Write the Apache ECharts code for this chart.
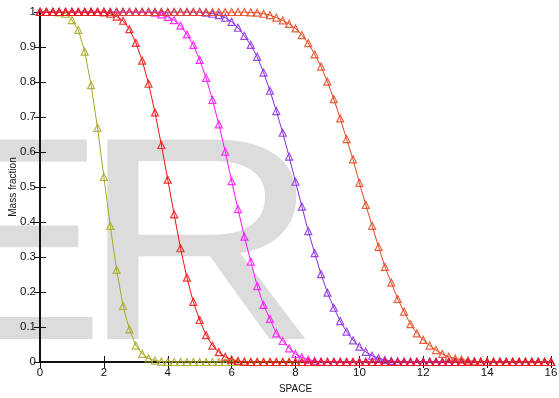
<!DOCTYPE html>
<html>
<head>
<meta charset="utf-8">
<script src="https://cdn.jsdelivr.net/npm/echarts@6/dist/echarts.min.js"></script>
<style>
    html, body { margin: 0; padding: 0; background: #fff; }
    #chart { width: 559px; height: 398px; }
</style>
</head>
<body>
<div id="chart"></div>
<script>
// 横坐标 (SPACE)，步长 0.2
let spaceX = [
    0, 0.2, 0.4, 0.6, 0.8, 1, 1.2, 1.4, 1.6, 1.8,
    2, 2.2, 2.4, 2.6, 2.8, 3, 3.2, 3.4, 3.6, 3.8,
    4, 4.2, 4.4, 4.6, 4.8, 5, 5.2, 5.4, 5.6, 5.8,
    6, 6.2, 6.4, 6.6, 6.8, 7, 7.2, 7.4, 7.6, 7.8,
    8, 8.2, 8.4, 8.6, 8.8, 9, 9.2, 9.4, 9.6, 9.8,
    10, 10.2, 10.4, 10.6, 10.8, 11, 11.2, 11.4, 11.6, 11.8,
    12, 12.2, 12.4, 12.6, 12.8, 13, 13.2, 13.4, 13.6, 13.8,
    14, 14.2, 14.4, 14.6, 14.8, 15, 15.2, 15.4, 15.6, 15.8,
    16
];
let xTicks = [0, 2, 4, 6, 8, 10, 12, 14, 16];
let yTicks = [0, 0.1, 0.2, 0.3, 0.4, 0.5, 0.6, 0.7, 0.8, 0.9, 1];

// 各条曲线的质量分数
let oliveY = [
    1, 1, 1, 0.999, 0.995, 0.977, 0.949, 0.887, 0.791, 0.669,
    0.529, 0.389, 0.263, 0.160, 0.093, 0.047, 0.023, 0.010, 0.004, 0.001,
    0, 0, 0, 0, 0, 0, 0, 0, 0, 0,
    0, 0, 0, 0, 0, 0, 0, 0, 0, 0,
    0, 0, 0, 0, 0, 0, 0, 0, 0, 0,
    0, 0, 0, 0, 0, 0, 0, 0, 0, 0,
    0, 0, 0, 0, 0, 0, 0, 0, 0, 0,
    0, 0, 0, 0, 0, 0, 0, 0, 0, 0,
    0
];
let redY = [
    1, 1, 1, 1, 1, 1, 1, 1, 1, 1,
    0.999, 0.995, 0.987, 0.975, 0.951, 0.912, 0.861, 0.795, 0.713, 0.620,
    0.521, 0.422, 0.325, 0.241, 0.172, 0.120, 0.077, 0.047, 0.028, 0.015,
    0.007, 0.003, 0.001, 0, 0, 0, 0, 0, 0, 0,
    0, 0, 0, 0, 0, 0, 0, 0, 0, 0,
    0, 0, 0, 0, 0, 0, 0, 0, 0, 0,
    0, 0, 0, 0, 0, 0, 0, 0, 0, 0,
    0, 0, 0, 0, 0, 0, 0, 0, 0, 0,
    0
];
let magentaY = [
    1, 1, 1, 1, 1, 1, 1, 1, 1, 1,
    1, 1, 1, 1, 1, 1, 1, 1, 0.998, 0.993,
    0.986, 0.977, 0.961, 0.936, 0.906, 0.863, 0.812, 0.749, 0.679, 0.601,
    0.517, 0.437, 0.358, 0.287, 0.217, 0.163, 0.123, 0.082, 0.060, 0.039,
    0.023, 0.013, 0.007, 0.003, 0.001, 0, 0, 0, 0, 0,
    0, 0, 0, 0, 0, 0, 0, 0, 0, 0,
    0, 0, 0, 0, 0, 0, 0, 0, 0, 0,
    0, 0, 0, 0, 0, 0, 0, 0, 0, 0,
    0
];
let purpleY = [
    1, 1, 1, 1, 1, 1, 1, 1, 1, 1,
    1, 1, 1, 1, 1, 1, 1, 1, 1, 1,
    1, 1, 1, 1, 1, 1, 0.998, 0.995, 0.991, 0.984,
    0.972, 0.955, 0.932, 0.906, 0.872, 0.827, 0.775, 0.717, 0.655, 0.587,
    0.515, 0.444, 0.374, 0.311, 0.251, 0.198, 0.155, 0.117, 0.087, 0.062,
    0.044, 0.029, 0.018, 0.011, 0.006, 0.003, 0.001, 0, 0, 0,
    0, 0, 0, 0, 0, 0, 0, 0, 0, 0,
    0, 0, 0, 0, 0, 0, 0, 0, 0, 0,
    0
];
let orangeY = [
    1, 1, 1, 1, 1, 1, 1, 1, 1, 1,
    1, 1, 1, 1, 1, 1, 1, 1, 1, 1,
    1, 1, 1, 1, 1, 1, 1, 1, 1, 1,
    1, 1, 1, 0.999, 0.998, 0.995, 0.991, 0.984, 0.976, 0.966,
    0.953, 0.934, 0.911, 0.879, 0.844, 0.801, 0.751, 0.696, 0.637, 0.579,
    0.512, 0.449, 0.389, 0.329, 0.272, 0.227, 0.180, 0.144, 0.108, 0.082,
    0.063, 0.047, 0.034, 0.023, 0.015, 0.010, 0.007, 0.004, 0.002, 0.001,
    0, 0, 0, 0, 0, 0, 0, 0, 0, 0,
    0
];

let labelFont = '"Liberation Sans Narrow", "Arial Narrow", "Liberation Sans", Arial, sans-serif';
let markFont = '290px "Liberation Sans", Arial, sans-serif';

function makeSeries(values, color){
    return {
        type: 'line',
        data: spaceX.map(function(x, i){ return [x, values[i]]; }),
        symbol: 'triangle',
        symbolSize: 7,
        showAllSymbol: true,
        lineStyle: { color: color, width: 1 },
        itemStyle: { color: 'rgba(255,255,255,0)', borderColor: color, borderWidth: 1.2, opacity: 0.85 },
        emphasis: { disabled: true },
        z: 3
    };
}

let myChart = echarts.init(document.getElementById('chart'));
let option = {
    animation: false,
    backgroundColor: '#fff',
    // 背景水印 "ER"
    graphic: [{
        type: 'text',
        z: -10,
        silent: true,
        style: { text: 'E', x: 105, y: 259, font: markFont, fill: '#dcdcdc', align: 'right', verticalAlign: 'middle' }
    }, {
        type: 'text',
        z: -10,
        silent: true,
        x: 80,
        scaleX: 1.15,
        style: { text: 'R', x: 0, y: 259, font: markFont, fill: '#dcdcdc', align: 'left', verticalAlign: 'middle' }
    }],
    grid: { left: 40, right: 8, top: 12, bottom: 36, containLabel: false, outerBoundsMode: 'none' },
    xAxis: [{
        type: 'value',
        min: xTicks[0],
        max: xTicks[xTicks.length - 1],
        interval: 2,
        name: 'SPACE',
        nameLocation: 'middle',
        nameGap: 22,
        nameMoveOverlap: false,
        nameTextStyle: { fontFamily: labelFont, fontSize: 10, color: '#111' },
        axisLine: { lineStyle: { color: '#111', width: 2 } },
        axisTick: { inside: true, length: 6, lineStyle: { color: '#111', width: 1 } },
        axisLabel: { fontFamily: labelFont, fontSize: 11.5, color: '#111', margin: 5 },
        splitLine: { show: false }
    }, {
        type: 'value',
        position: 'top',
        min: xTicks[0],
        max: xTicks[xTicks.length - 1],
        interval: 2,
        axisLine: { show: true, lineStyle: { color: '#111', width: 1.5 } },
        axisTick: { inside: true, length: 6, lineStyle: { color: '#111', width: 1 } },
        axisLabel: { show: false },
        splitLine: { show: false }
    }],
    yAxis: [{
        type: 'value',
        min: yTicks[0],
        max: yTicks[yTicks.length - 1],
        interval: 0.1,
        name: 'Mass fraction',
        nameLocation: 'middle',
        nameGap: 22,
        nameMoveOverlap: false,
        nameTextStyle: { fontFamily: labelFont, fontSize: 10, color: '#111' },
        axisLine: { show: true, lineStyle: { color: '#111', width: 2 } },
        axisTick: { inside: true, length: 6, lineStyle: { color: '#111', width: 1 } },
        axisLabel: { fontFamily: labelFont, fontSize: 11.5, color: '#111', margin: 4 },
        splitLine: { show: false }
    }, {
        type: 'value',
        position: 'right',
        min: yTicks[0],
        max: yTicks[yTicks.length - 1],
        interval: 0.1,
        axisLine: { show: true, lineStyle: { color: '#111', width: 1.5 } },
        axisTick: { inside: true, length: 6, lineStyle: { color: '#111', width: 1 } },
        axisLabel: { show: false },
        splitLine: { show: false }
    }],
    series: [
        makeSeries(oliveY, '#a8a820'),
        makeSeries(magentaY, '#ff10ff'),
        makeSeries(purpleY, '#8a2be2'),
        makeSeries(orangeY, '#e4461e'),
        makeSeries(redY, '#f41010')
    ]
};
myChart.setOption(option);
</script>
</body>
</html>
